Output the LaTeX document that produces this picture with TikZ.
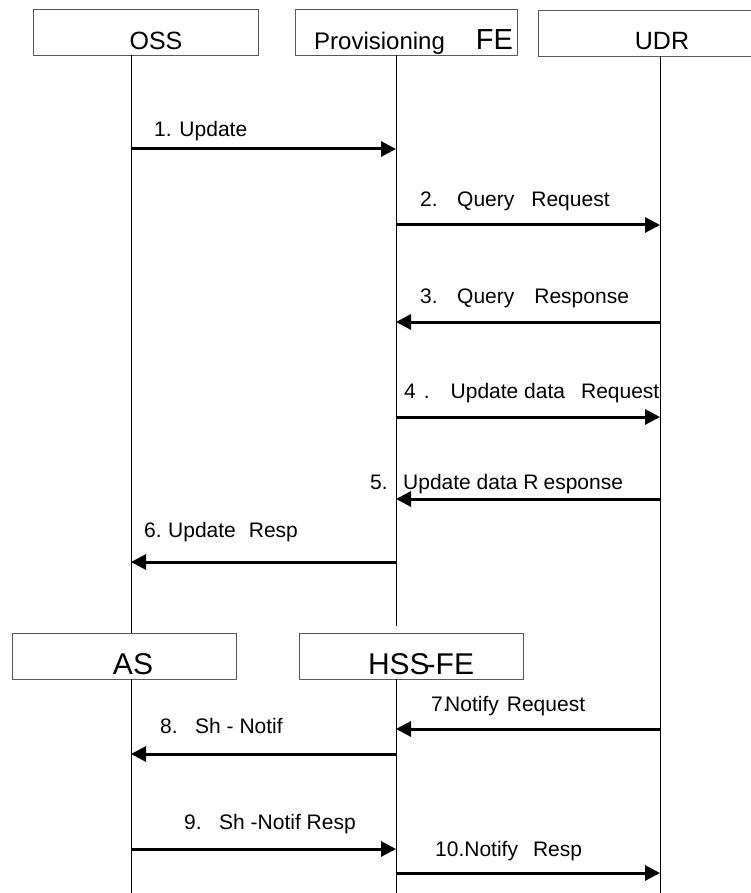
\documentclass[tikz,border=0pt]{standalone}
\usepackage{fontspec}
\setmainfont{Liberation Sans}
\usetikzlibrary{arrows.meta}
\begin{document}
\begin{tikzpicture}[x=1pt,y=-1pt,
  box/.style={draw=black!65,line width=1pt,inner sep=0pt,anchor=north west},
  life/.style={draw=black,line width=1pt},
  msg/.style={draw=black,line width=3pt,-{Triangle[length=15pt,width=15pt]}},
  lbl/.style={inner sep=0pt,anchor=base west,font=\fontsize{21}{21}\selectfont},
  hdr/.style={inner sep=0pt,anchor=base,font=\fontsize{25}{25}\selectfont},
  big/.style={inner sep=0pt,anchor=base,font=\fontsize{30}{30}\selectfont}]
\useasboundingbox (0,0) rectangle (751,893);
\clip (0,0) rectangle (751,893);
\fill[white] (0,0) rectangle (751,893);
% boxes
\node[box,minimum width=225pt,minimum height=46pt] (ossbox) at (33,9.5) {};
\node[box,minimum width=222pt,minimum height=46pt] (provbox) at (295,9.5) {};
\node[box,minimum width=230pt,minimum height=46pt] (udrbox) at (538,10) {};
\node[box,minimum width=224pt,minimum height=46pt] (asbox) at (12,633) {};
\node[box,minimum width=224pt,minimum height=46pt] (hssbox) at (299,633) {};
% box texts
\node[hdr] (osstxt) at (156,49.5) {OSS};
\node[hdr,anchor=base west,font=\fontsize{24}{24}\selectfont] (provtxt) at (314,49.5) {Provisioning\hspace{31pt}{\fontsize{29}{29}\selectfont FE}};
\node[hdr] (udrtxt) at (662,49.5) {UDR};
\node[big] (astxt) at (133,674) {AS};
\node[big] (hsstxt) at (421,674) {HSS\kern-4pt-FE};
% lifeline coordinates
\coordinate (oT) at (131,55.5);
\coordinate (oM) at (131,633);
\coordinate (oN) at (131,679);
\coordinate (oB) at (131,893);
\coordinate (pT) at (396,55.5);
\coordinate (pM) at (396,626);
\coordinate (pN) at (396,679);
\coordinate (pB) at (396,893);
\coordinate (uT) at (660,56);
\coordinate (uB) at (660,893);
\draw[life] (oT) -- (oM) (oN) -- (oB);
\draw[life] (pT) -- (pM) (pN) -- (pB);
\draw[life] (uT) -- (uB);
% message coordinates
\foreach \n/\y in {1/149,2/225,3/322,4/417,5/499,6/562,7/729,8/754,9/849,10/873}{
  \coordinate (O\n) at (131,\y);
  \coordinate (P\n) at (396,\y);
  \coordinate (U\n) at (660,\y);
}
\draw[msg] (O1) -- (P1);
\draw[msg] (P2) -- (U2);
\draw[msg] (U3) -- (P3);
\draw[msg] (P4) -- (U4);
\draw[msg] (U5) -- (P5);
\draw[msg] (P6) -- (O6);
\draw[msg] (U7) -- (P7);
\draw[msg] (P8) -- (O8);
\draw[msg] (O9) -- (P9);
\draw[msg] (P10) -- (U10);
% labels
\node[lbl] (l1) at (154,137) {1. Update};
\node[lbl] (l2) at (420,207) {2.\hspace{19.5pt}Query\hspace{17pt}Request};
\node[lbl] (l3) at (420,303) {3.\hspace{19.5pt}Query\hspace{20pt}Response};
\node[lbl] (l4) at (404,398) {4\hspace{8pt}.\hspace{21pt}Update data\hspace{16pt}Request};
\node[lbl] (l5) at (370,489) {5.\hspace{15.5pt}Update data R\kern5pt esponse};
\node[lbl] (l6) at (144,537) {6.\hspace{6.5pt}Update\hspace{13pt}Resp};
\node[lbl] (l7) at (431,711) {7.\kern-3.5pt Notify\hspace{8pt}Request};
\node[lbl] (l8) at (160,733) {8.\hspace{17.5pt}Sh - Notif};
\node[lbl] (l9) at (184,829) {9.\hspace{17.5pt}Sh -Notif Resp};
\node[lbl] (l10) at (435,856) {10.\kern0pt Notify\hspace{15pt}Resp};
\end{tikzpicture}
\end{document}
